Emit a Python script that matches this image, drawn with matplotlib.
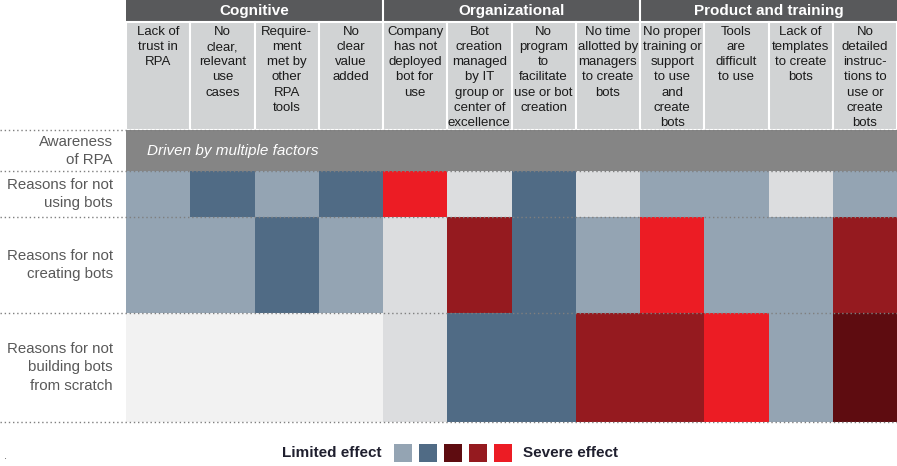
import numpy as np
import matplotlib.pyplot as plt

plt.rcParams['font.family'] = ['Liberation Sans', 'DejaVu Sans']

groups = ["Cognitive", "Organizational", "Product and training"]
columns = [
    "Lack of\ntrust in\nRPA",
    "No\nclear,\nrelevant\nuse\ncases",
    "Require-\nment\nmet by\nother\nRPA\ntools",
    "No\nclear\nvalue\nadded",
    "Company\nhas not\ndeployed\nbot for\nuse",
    "Bot\ncreation\nmanaged\nby IT\ngroup or\ncenter of\nexcellence",
    "No\nprogram\nto\nfacilitate\nuse or bot\ncreation",
    "No time\nallotted by\nmanagers\nto create\nbots",
    "No proper\ntraining or\nsupport\nto use\nand\ncreate\nbots",
    "Tools\nare\ndifficult\nto use",
    "Lack of\ntemplates\nto create\nbots",
    "No\ndetailed\ninstruc-\ntions to\nuse or\ncreate\nbots",
]
rows = ["Reasons for not\nusing bots",
        "Reasons for not\ncreating bots",
        "Reasons for not\nbuilding bots\nfrom scratch"]

# effect level per cell: -1 n/a, 0 none, 1 limited ... 5 severe
using = [1, 2, 1, 2, 5, 0, 2, 0, 1, 1, 0, 1]
creating = [1, 1, 2, 1, 0, 4, 2, 1, 5, 1, 1, 4]
building = [-1, -1, -1, -1, 0, 2, 2, 4, 4, 5, 1, 3]
levels = [using, creating, building]

level_colors = {-1: '#F2F2F2', 0: '#DCDDDF', 1: '#94A4B3', 2: '#506B85',
                3: '#5E0C10', 4: '#951A1F', 5: '#EC1C24'}
legend_levels = [1, 2, 3, 4, 5]

fig = plt.figure(figsize=(8.97, 4.66), dpi=100)
ax = fig.add_axes([0, 0, 1, 1])
ax.set_xlim(0, 897)
ax.set_ylim(466, 0)
ax.axis('off')

x0, x1 = 126, 897
colw = (x1 - x0) / len(columns)
col_x = x0 + np.arange(len(columns)) * colw
row_edges = [171, 217, 313, 422]

# group header band
ax.bar(x0, 22, x1 - x0, bottom=0, align='edge', color='#58595B')
for g, name in enumerate(groups):
    gx = x0 + g * 4 * colw
    if g > 0:
        ax.plot([gx, gx], [0, 22], color='white', lw=1.5)
    ax.text(gx + 2 * colw, 11.5, name, ha='center', va='center',
            color='white', fontsize=11, fontweight='bold')

# column headers
ax.bar(col_x, 108, colw, bottom=22, align='edge', color='#D1D3D4',
       edgecolor='white', linewidth=1.5)
for i, lab in enumerate(columns):
    ax.text(col_x[i] + colw / 2, 26, lab, ha='center', va='top',
            fontsize=9.5, color='#1A1A1A', linespacing=1.35)

# awareness row
ax.bar(x0, 41, x1 - x0, bottom=130, align='edge', color='#858585')
ax.text(147, 151, "Driven by multiple factors", ha='left', va='center',
        color='white', fontsize=11, style='italic')
ax.text(113, 151, "Awareness\nof RPA", ha='right', va='center',
        color='#595959', fontsize=10.8, linespacing=1.4)

# cells
for r, vals in enumerate(levels):
    top, bot = row_edges[r], row_edges[r + 1]
    ax.bar(col_x, bot - top, colw + 0.3, bottom=top, align='edge',
           color=[level_colors[v] for v in vals], linewidth=0)
    ax.text(113, (top + bot) / 2, rows[r], ha='right', va='center',
            color='#595959', fontsize=10.8, linespacing=1.45)

# dotted separators
for y in [130] + row_edges:
    ax.plot([0, 897], [y, y], color='#7F7F7F', lw=1, ls=(0, (1, 2)))

# legend
ax.text(382, 453, "Limited effect", ha='right', va='center',
        fontsize=11, fontweight='bold', color='#1F1F2E')
lx = 394 + np.arange(len(legend_levels)) * 25
ax.bar(lx, 18, 18, bottom=444, align='edge',
       color=[level_colors[v] for v in legend_levels])
ax.text(523, 453, "Severe effect", ha='left', va='center',
        fontsize=11, fontweight='bold', color='#1F1F2E')
ax.text(4, 456, ".", fontsize=8, color='#595959', va='center')

fig.savefig('out.png', dpi=100)
